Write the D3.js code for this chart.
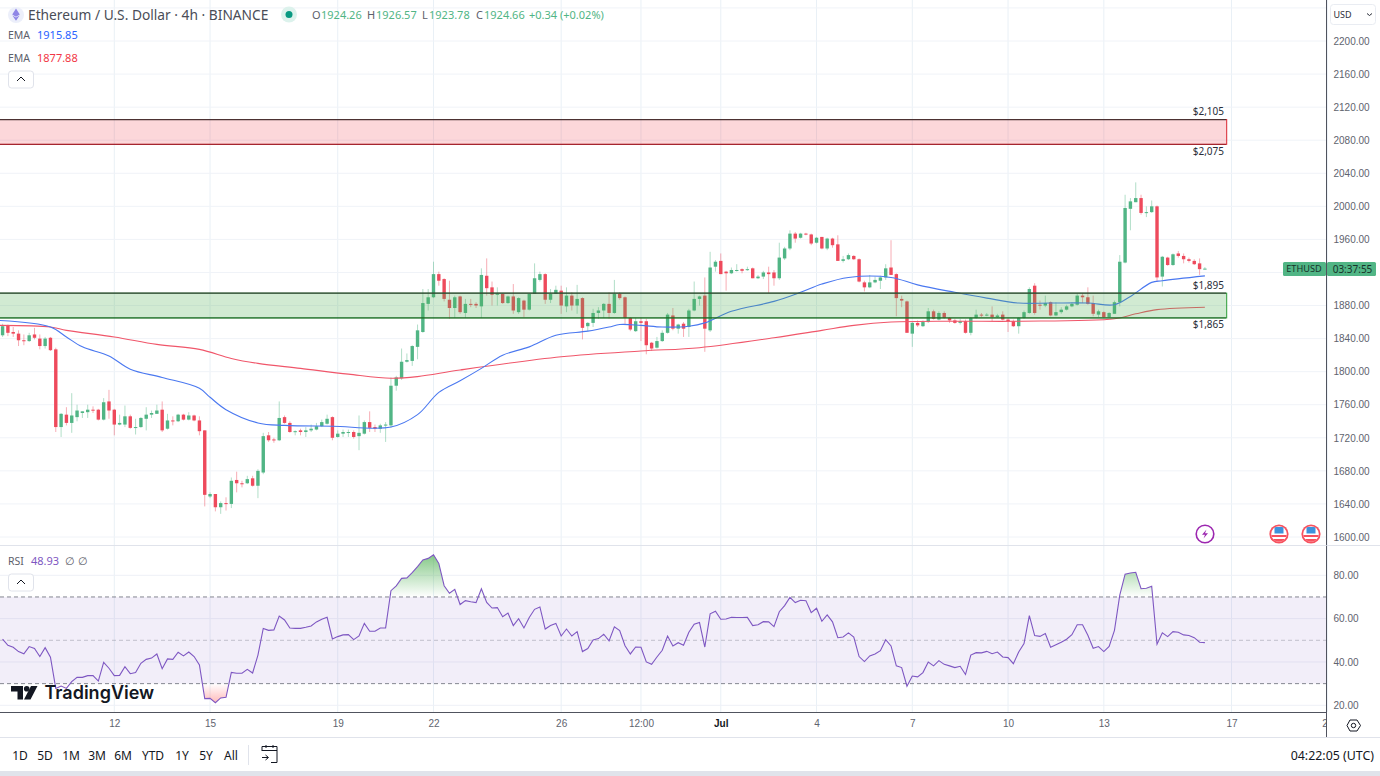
<!DOCTYPE html>
<html>
<head>
<meta charset="utf-8">
<script src="https://cdnjs.cloudflare.com/ajax/libs/d3/7.8.5/d3.min.js"></script>
<style>
  html, body { margin: 0; background: #fff; }
  svg { display: block; font-family: "Noto Sans", sans-serif; }
  .axis path { display: none; }
  .axis text { fill: #60636e; font-size: 10px; font-family: "Liberation Sans", sans-serif; }
</style>
</head>
<body>
<div id="chart"></div>
<script>
// candles, 4h each, first one opens on Jun 8 12:00 UTC
var opens = [
  1844,1856,1848,1846,1838,1837,1845,1840,1831,1841,
  1827,1733,1748,1738,1745,1750,1751,1754,1754,1742,
  1764,1754,1736,1736,1746,1732,1733,1743,1748,1749,
  1754,1731,1741,1740,1748,1742,1747,1741,1729,1649,
  1652,1636,1641,1640,1669,1665,1665,1671,1662,1678,
  1723,1718,1717,1745,1738,1727,1729,1727,1729,1730,
  1734,1737,1745,1721,1725,1726,1727,1722,1725,1739,
  1733,1731,1735,1735,1783,1792,1812,1813,1830,1848,
  1882,1890,1918,1912,1887,1877,1891,1871,1882,1882,
  1879,1916,1902,1893,1894,1883,1891,1872,1886,1875,
  1894,1911,1918,1887,1894,1898,1879,1892,1880,1889,
  1855,1859,1871,1874,1882,1871,1894,1890,1865,1849,
  1861,1861,1835,1829,1837,1847,1868,1852,1858,1854,
  1874,1888,1892,1850,1927,1934,1921,1919,1922,1924,
  1923,1925,1913,1915,1920,1920,1913,1937,1949,1967,
  1962,1967,1966,1956,1963,1949,1961,1954,1934,1936,
  1940,1936,1908,1902,1908,1910,1914,1926,1918,1888,
  1885,1846,1859,1855,1860,1873,1863,1871,1865,1862,
  1859,1861,1847,1865,1869,1868,1869,1866,1869,1863,
  1861,1855,1865,1871,1904,1881,1880,1884,1868,1872,
  1875,1879,1881,1892,1890,1883,1869,1872,1866,1870,
  1884,1932,1997,2005,2010,1992,1993,2000,1915,1938,
  1929,1943,1940,1936,1934,1931,1924.26];
var closes = [
  1855,1847,1846,1838,1837,1844,1841,1831,1840,1826,
  1733,1749,1738,1747,1753,1752,1754,1753,1742,1763,
  1753,1736,1738,1746,1732,1733,1744,1748,1750,1753,
  1729,1741,1740,1748,1742,1747,1741,1728,1651,1652,
  1636,1641,1640,1668,1665,1664,1670,1662,1680,1722,
  1717,1717,1744,1738,1727,1728,1727,1729,1731,1734,
  1739,1743,1720,1725,1727,1727,1721,1726,1739,1732,
  1731,1735,1736,1783,1793,1812,1814,1831,1850,1883,
  1890,1918,1910,1888,1877,1890,1872,1882,1881,1880,
  1917,1901,1893,1894.5,1883,1891,1874,1889,1875,1894,
  1913,1918,1887,1894,1899,1880,1892,1880,1888,1853,
  1859,1871,1874,1882,1871,1894,1889,1865,1851,1861,
  1859,1832,1828,1837,1847,1869,1852,1857,1852,1874,
  1888,1891,1852,1926,1933,1918,1919,1923,1923,1922,
  1924,1913,1915,1920,1918,1913,1938,1949,1967,1961,
  1967,1966,1955,1962,1949,1961,1953,1934,1936,1941,
  1936,1909,1902,1908,1911,1914,1925,1917,1889,1886,
  1847,1859,1856,1860,1873,1864,1871,1865,1862,1859,
  1861,1847,1865,1869,1868,1869,1866,1868,1863,1861,
  1855,1865,1872,1900,1871,1880,1883,1868,1872,1875,
  1879,1882,1892,1890,1882,1870,1873,1866,1871,1884,
  1933,1998,2006,2010,1992,1993,2000,1914,1939,1929,
  1942,1940,1936,1934,1930,1924,1924.66];
var highs = [
  1858,1857,1854,1850,1845,1847,1853,1845,1842,1842,
  1829,1750,1757,1774,1760,1752,1760,1758,1755,1768,
  1778,1755,1748,1759,1748,1743,1745,1757,1753,1760,
  1764,1749,1746,1749,1749,1751,1748,1746,1729,1654,
  1652,1643,1648,1672,1679,1668,1674,1674,1682,1726,
  1727,1720,1764,1747,1740,1729,1731,1733,1736,1738,
  1742,1748,1746,1729,1730,1730,1729,1747,1741,1752,
  1736,1737,1739,1793,1795,1828,1822,1832,1857,1900,
  1900,1933,1921,1913,1910,1892,1892,1888,1888,1884,
  1925,1937,1909,1902,1895,1892,1906,1890,1887,1895,
  1931,1921,1919,1900,1904,1904,1902,1896,1905,1890,
  1860,1876,1878,1883,1896,1911,1896,1891,1866,1865,
  1865,1864,1836,1842,1850,1871,1877,1858,1860,1876,
  1909,1892,1914,1945,1935,1943,1922,1926,1930,1925,
  1927,1926,1917,1922,1927,1923,1956,1951,1971,1969,
  1968,1968,1967,1963,1963,1962,1962,1965,1940,1943,
  1941,1937,1910,1917,1915,1916,1930,1959,1919,1892,
  1886,1860,1862,1862,1877,1875,1873,1873,1866,1864,
  1864,1863,1866,1875,1871,1871,1879,1870,1873,1865,
  1863,1866,1874,1902,1907,1886,1892,1885,1884,1878,
  1881,1884,1895,1895,1902,1892,1875,1873,1872,1886,
  1941,2014,2010,2029,2014,2000,2007,2001,1940,1939,
  1943,1946,1943,1938,1936,1937,1926.57];
var lows = [
  1842,1843,1842,1831,1832,1836,1839,1827,1828,1825,
  1727,1721,1735,1726,1740,1744,1744,1750,1741,1741,
  1743,1723,1735,1733,1731,1724,1732,1729,1744,1749,
  1727,1730,1735,1739,1741,1741,1740,1723,1637,1647,
  1631,1628,1632,1635,1654,1660,1664,1661,1647,1676,
  1715,1714,1716,1737,1726,1723,1723,1721,1727,1729,
  1733,1736,1717,1720,1721,1721,1719,1705,1724,1727,
  1727,1726,1715,1732,1777,1790,1811,1807,1815,1847,
  1874,1889,1904,1885,1864,1865,1870,1865,1878,1877,
  1865,1892,1880,1880,1882,1882,1870,1870,1866,1874,
  1894,1909,1882,1883,1894,1870,1872,1874,1870,1839,
  1849,1854,1864,1865,1864,1870,1887,1857,1849,1848,
  1837,1821,1825,1828,1836,1846,1850,1846,1842,1842,
  1873,1880,1824,1848,1921,1918,1898,1918,1921,1919,
  1922,1913,1912,1912,1895,1904,1911,1935,1947,1956,
  1961,1965,1953,1955,1948,1947,1950,1934,1932,1935,
  1935,1908,1897,1901,1907,1900,1911,1917,1867,1878,
  1847,1830,1854,1854,1859,1863,1862,1864,1859,1858,
  1857,1846,1844,1864,1866,1867,1861,1865,1862,1848,
  1854,1846,1864,1870,1869,1875,1878,1867,1867,1870,
  1874,1878,1880,1883,1881,1867,1866,1865,1865,1870,
  1879,1931,1971,2005,1990,1987,1992,1909,1903,1928,
  1928,1938,1931,1932,1929,1917,1923.78];
var rsiValues = [
  50.5,47.7,46.8,44.8,43.8,47.1,46.2,42.5,46.6,42.2,
  27.8,28.9,27.8,30.9,32.9,32.9,33.7,33.7,31.2,39.8,
  37.1,33.7,33.8,37.8,34.6,35.1,39.4,41.2,41.8,43.7,
  36.9,41.4,41.2,44.5,42.8,44.6,42.5,38.6,23.1,23.2,
  21.2,23.4,23.7,35.2,34.8,34.8,36.6,34.9,43.2,55.5,
  54.6,54.8,61.2,59.4,55.7,55.5,55.5,56,56.6,58.5,
  59.7,60.6,50.6,51.7,52.5,52.6,50.3,52,57.8,54.2,
  54.2,55.7,55.7,72.9,75.1,78.6,78.8,81.2,84,87.1,
  87.8,89.5,85.5,75.2,71.7,73.5,66.5,68.3,67.8,67.4,
  73.8,67.5,64.9,65.1,60.9,62.6,56.8,60,55.7,60.5,
  64.3,65.4,55.2,56.8,57.8,52,55.2,52,54,44.8,
  46.2,50.2,50.8,52.8,49.7,56.2,54.5,47.5,43.7,46.9,
  46.8,40,38.9,42.3,45.4,52,47.4,48.9,47.7,53.7,
  57.4,58.2,46.9,62.2,63.4,59.7,59.8,60.6,60.5,60.5,
  60.6,56.8,57.2,58.6,58.5,56.3,63.2,66,69.8,67.4,
  68.5,68.3,62.8,64.8,58.8,61.7,58.5,51.2,51.5,53.4,
  51.5,42.5,40.2,42.8,43.7,45.2,50.3,47.4,38.2,37.4,
  28.8,33.5,33.1,35.1,40,38.2,40.6,38.9,38.2,37.4,
  38,34.2,43.2,44.3,44.2,44.9,43.8,44.6,42.3,42,
  39.2,44.6,48.5,61.4,52.2,51.8,53.1,46.8,48,49.1,
  50.5,52.6,57.2,57.2,52.3,46.3,47.1,44.8,47.2,54.6,
  70.8,80.5,81.1,81.4,73.8,74,74.9,48.2,53.5,51.7,
  54,53.7,52.5,52.2,51.2,49.1,48.93];

// EMA lines read at their bends: candle number, price
var emaFastIndex = [-1,9,12,15,20,24,30,37,39,42,48,53,62,73,78,82,86,90,94,99,104,110,114,116,120,124,129,132,137,145,150,154,159,167,172,179,185,191,197,204,209,212,216,218,226];
var emaFastValue = [1862,1854,1842,1830,1819,1803,1793,1780,1769,1754,1738,1735,1734,1733,1748,1775,1789,1804,1820,1830,1844,1849,1854,1857,1856,1854,1855,1859,1873,1885,1896,1906,1914,1914,1905,1896,1889,1883,1883,1883,1881,1891,1908,1910,1915.85];
var emaSlowIndex = [-1,9,12,21,29,37,43,48,56,65,73,78,86,105,120,131,145,154,160,167,179,191,209,213,217,226];
var emaSlowValue = [1856,1854,1850,1842,1833,1827,1816,1810,1804,1797,1792,1794,1802,1818,1825,1829,1841,1850,1856,1860,1861,1861,1864,1870,1875,1877.88];

var priceTicks = [2240,2200,2160,2120,2080,2040,2000,1960,1920,1880,1840,1800,1760,1720,1680,1640,1600];
var rsiTicks = [80,60,40,20];
var timeTicks = ["2023-06-12","2023-06-15","2023-06-19","2023-06-22","2023-06-26","2023-06-28T12:00","2023-07-01","2023-07-04","2023-07-07","2023-07-10","2023-07-13","2023-07-17","2023-07-20"];
var timeLabels = ["12","15","19","22","26","12:00","Jul","4","7","10","13","17","20"];
var rangeButtons = ["1D","5D","1M","3M","6M","YTD","1Y","5Y","All"];
var rangeButtonX = [20,45,71,97,123,153,182,206,231];
var zones = [{top: 2105, bottom: 2075, kind: "red"}, {top: 1895, bottom: 1865, kind: "green"}];

var W = 1380, H = 776, plotRight = 1326.5;
var upColor = "#51b585", downColor = "#ee4a5c";

var svg = d3.select("#chart").append("svg").attr("width", W).attr("height", H);
var defs = svg.append("defs");

var startTime = Date.UTC(2023, 5, 8, 12);
function candleTime(i) { return new Date(startTime + i * 4 * 3600 * 1000); }

var x = d3.scaleUtc()
  .domain([new Date(Date.UTC(2023, 5, 12)), new Date(Date.UTC(2023, 6, 17))])
  .range([114.3, 1231.5]);
var y = d3.scaleLinear().domain([1600, 2200]).range([537, 41]);
var yRsi = d3.scaleLinear().domain([20, 80]).range([705.3, 575.3]);
var tickDates = timeTicks.map(function(s) { return new Date(s + (s.length > 10 ? ":00Z" : "T00:00:00Z")); });

function clip(id, x0, y0, w, h) {
  defs.append("clipPath").attr("id", id).append("rect")
    .attr("x", x0).attr("y", y0).attr("width", w).attr("height", h);
}
clip("mainClip", 0, 0, plotRight, 545);
clip("rsiClip", 0, 545.5, plotRight, 166.5);
clip("timeClip", 0, 0, plotRight, 26);

function txt(g, px, py, s, color, size, anchor, weight) {
  return g.append("text").attr("x", px).attr("y", py).attr("dy", "0.35em")
    .attr("fill", color).attr("font-size", size)
    .attr("text-anchor", anchor || "start").attr("font-weight", weight || null).text(s);
}

// grid
var grid = svg.append("g");
grid.selectAll(".v").data(tickDates).enter().append("line")
  .attr("x1", function(d) { return x(d); }).attr("x2", function(d) { return x(d); })
  .attr("y1", 0).attr("y2", 712).attr("stroke", "#e9f0f6");
grid.selectAll(".h").data(priceTicks).enter().append("line")
  .attr("x1", 0).attr("x2", plotRight)
  .attr("y1", function(d) { return y(d); }).attr("y2", function(d) { return y(d); })
  .attr("stroke", "#f0f3f8");
grid.selectAll(".hr").data(rsiTicks).enter().append("line")
  .attr("x1", 0).attr("x2", plotRight)
  .attr("y1", function(d) { return yRsi(d); }).attr("y2", function(d) { return yRsi(d); })
  .attr("stroke", "#eef1f7");

// price pane
var main = svg.append("g").attr("clip-path", "url(#mainClip)");
var candles = main.selectAll(".candle").data(d3.range(opens.length)).enter().append("g");
candles.append("line")
  .attr("x1", function(i) { return x(candleTime(i)); })
  .attr("x2", function(i) { return x(candleTime(i)); })
  .attr("y1", function(i) { return y(highs[i]); })
  .attr("y2", function(i) { return y(lows[i]); })
  .attr("stroke", function(i) { return closes[i] >= opens[i] ? upColor : downColor; })
  .attr("stroke-opacity", 0.45);
candles.append("rect")
  .attr("x", function(i) { return x(candleTime(i)) - 1.7; })
  .attr("width", 3.4)
  .attr("y", function(i) { return y(Math.max(opens[i], closes[i])); })
  .attr("height", function(i) { return Math.max(1, Math.abs(y(opens[i]) - y(closes[i]))); })
  .attr("fill", function(i) { return closes[i] >= opens[i] ? upColor : downColor; });

var emaLine = d3.line()
  .curve(d3.curveCatmullRom.alpha(0.5))
  .x(function(d) { return x(candleTime(d[0])); })
  .y(function(d) { return y(d[1]); });
main.append("path").datum(d3.zip(emaSlowIndex, emaSlowValue))
  .attr("d", emaLine).attr("fill", "none").attr("stroke", "#f0566a").attr("stroke-width", 1.1);
main.append("path").datum(d3.zip(emaFastIndex, emaFastValue))
  .attr("d", emaLine).attr("fill", "none").attr("stroke", "#4a78f0").attr("stroke-width", 1.1);

// supply and demand boxes go over the candles
zones.forEach(function(z) {
  var red = z.kind == "red";
  main.append("rect")
    .attr("x", -3).attr("width", 1226.7 + 3)
    .attr("y", y(z.top)).attr("height", y(z.bottom) - y(z.top))
    .attr("fill", red ? "rgba(242,54,69,0.2)" : "rgba(76,175,80,0.26)")
    .attr("stroke", red ? "#d8232f" : "#2a9d35").attr("stroke-width", 1);
  main.append("line")
    .attr("x1", 0).attr("x2", 1226)
    .attr("y1", y(z.top)).attr("y2", y(z.top))
    .attr("stroke", "#333").attr("stroke-width", 1.2).attr("stroke-opacity", 0.85);
  main.append("line")
    .attr("x1", 0).attr("x2", 1226)
    .attr("y1", y(z.bottom)).attr("y2", y(z.bottom))
    .attr("stroke", red ? "#8e1a22" : "#14501c").attr("stroke-opacity", 0.85);
  txt(main, 1224, y(z.top) - 8, "$" + d3.format(",")(z.top), "#2a2e39", 10, "end");
  txt(main, 1224, y(z.bottom) + 7, "$" + d3.format(",")(z.bottom), "#2a2e39", 10, "end");
});

// rsi pane
var pane = svg.append("g").attr("clip-path", "url(#rsiClip)");
pane.append("rect")
  .attr("x", 0).attr("width", plotRight)
  .attr("y", yRsi(70)).attr("height", yRsi(30) - yRsi(70))
  .attr("fill", "rgba(126,87,194,0.1)");
[70, 50, 30].forEach(function(v) {
  pane.append("line")
    .attr("x1", 0).attr("x2", plotRight)
    .attr("y1", yRsi(v)).attr("y2", yRsi(v))
    .attr("stroke", "#787b86").attr("stroke-dasharray", "4 3")
    .attr("stroke-opacity", v == 50 ? 0.4 : 0.9);
});

function gradient(id, y1, y2, c1, c2) {
  var g = defs.append("linearGradient").attr("id", id)
    .attr("gradientUnits", "userSpaceOnUse")
    .attr("x1", 0).attr("x2", 0).attr("y1", y1).attr("y2", y2);
  g.append("stop").attr("offset", 0).attr("stop-color", c1);
  g.append("stop").attr("offset", 1).attr("stop-color", c2);
}
gradient("obFill", yRsi(90), yRsi(70), "rgba(76,175,80,0.7)", "rgba(76,175,80,0)");
gradient("osFill", yRsi(30), yRsi(20), "rgba(255,82,82,0)", "rgba(255,82,82,0.45)");
clip("obClip", 0, 545.5, plotRight, yRsi(70) - 545.5);
clip("osClip", 0, yRsi(30), plotRight, 712 - yRsi(30));

var rsiArea = function(level) {
  return d3.area()
    .x(function(v, i) { return x(candleTime(i)); })
    .y0(yRsi(level))
    .y1(function(v) { return yRsi(v); });
};
pane.append("path").attr("d", rsiArea(70)(rsiValues))
  .attr("fill", "url(#obFill)").attr("clip-path", "url(#obClip)");
pane.append("path").attr("d", rsiArea(30)(rsiValues))
  .attr("fill", "url(#osFill)").attr("clip-path", "url(#osClip)");
pane.append("path").datum(rsiValues)
  .attr("d", d3.line()
    .x(function(v, i) { return x(candleTime(i)); })
    .y(function(v) { return yRsi(v); }))
  .attr("fill", "none").attr("stroke", "#7e57c2").attr("stroke-width", 1.1);

// axes
var priceAxis = svg.append("g").attr("class", "axis").attr("transform", "translate(" + plotRight + ",0)")
  .call(d3.axisRight(y).tickValues(priceTicks.slice(1)).tickSize(0).tickPadding(7).tickFormat(d3.format(".2f")));
priceAxis.selectAll("text").filter(function(d) { return d == 1920; }).remove();
svg.append("g").attr("class", "axis").attr("transform", "translate(" + plotRight + ",0)")
  .call(d3.axisRight(yRsi).tickValues(rsiTicks).tickSize(0).tickPadding(7).tickFormat(d3.format(".2f")));
var timeAxis = svg.append("g").attr("class", "axis").attr("clip-path", "url(#timeClip)")
  .attr("transform", "translate(0,712)")
  .call(d3.axisBottom(x).tickValues(tickDates).tickSize(0).tickPadding(8)
    .tickFormat(function(d, i) { return timeLabels[i]; }));
timeAxis.selectAll("text").filter(function(d, i) { return timeLabels[i] == "Jul"; })
  .style("fill", "#131722").style("font-weight", "bold");

function rule(x1, y1, x2, y2, c) {
  svg.append("line").attr("x1", x1).attr("y1", y1).attr("x2", x2).attr("y2", y2).attr("stroke", c);
}
rule(plotRight, 0, plotRight, 737, "#50535e");
rule(0, 545.5, plotRight, 545.5, "#e0e3eb");
rule(plotRight, 545.5, W, 545.5, "#e0e3eb");
rule(0, 712.5, plotRight, 712.5, "#50535e");
rule(0, 737.5, W, 737.5, "#e0e3eb");
rule(248.5, 745, 248.5, 765, "#e0e3eb");
svg.append("rect").attr("x", 0).attr("y", 771).attr("width", W).attr("height", 5).attr("fill", "#e0e3eb");

function upButton(py) {
  svg.append("rect").attr("x", 8.5).attr("y", py).attr("width", 25).attr("height", 17).attr("rx", 3)
    .attr("fill", "#fff").attr("stroke", "#e0e3eb");
  svg.append("path").attr("d", "M17 " + (py + 10) + "l4-4 4 4").attr("fill", "none").attr("stroke", "#131722");
}

// legend
var legend = svg.append("g");
legend.append("circle").attr("cx", 16).attr("cy", 15).attr("r", 8).attr("fill", "#eceffa");
legend.append("path").attr("d", "M16 8.5l3.8 6-3.8 2.2-3.8-2.2zM12.4 15.4l3.6 2.2 3.6-2.2-3.6 5.3z").attr("fill", "#8f86e6");
txt(legend, 28, 15, "Ethereum / U.S. Dollar · 4h · BINANCE", "#4a4d57", 13.75);
legend.append("circle").attr("cx", 289).attr("cy", 14.5).attr("r", 8).attr("fill", "#dcf2ec");
legend.append("circle").attr("cx", 289).attr("cy", 14.5).attr("r", 3.5).attr("fill", "#089981");
var ohlc = [["O", 312, 321, "1924.26"], ["H", 367, 376, "1926.57"], ["L", 422, 429, "1923.78"], ["C", 476, 484, "1924.66"]];
ohlc.forEach(function(d) {
  txt(legend, d[1], 15.5, d[0], "#5d606b", 11);
  txt(legend, d[2], 15.5, d[3], upColor, 11);
});
txt(legend, 529, 15.5, "+0.34 (+0.02%)", upColor, 11);
txt(legend, 8, 35.5, "EMA", "#5d606b", 10.5);
txt(legend, 37, 35.5, "1915.85", "#2962ff", 11);
txt(legend, 8, 58, "EMA", "#5d606b", 10.5);
txt(legend, 37, 58, "1877.88", "#f23645", 11);
upButton(71);
txt(legend, 8, 561, "RSI", "#5d606b", 10.5);
txt(legend, 31, 561, "48.93", "#7e57c2", 11);
txt(legend, 65, 561, "∅", "#5d606b", 10.5);
txt(legend, 78, 561, "∅", "#5d606b", 10.5);
upButton(574);

// tradingview mark
var logo = svg.append("g").attr("transform", "translate(11,686)");
logo.append("path").attr("d", "M0 0H12V13.5H6.5V5.5H0zM19.5 13.5H13L20 0H26.5z").attr("fill", "#131722");
logo.append("circle").attr("cx", 15.7).attr("cy", 2.8).attr("r", 2.8).attr("fill", "#131722");
txt(svg, 44.5, 693, "TradingView", "#131722", 18, "start", 600).style("font-family", "Inter");

// last price tag
var tag = svg.append("g");
tag.append("rect").attr("x", 1283).attr("y", 262).attr("width", 43).attr("height", 14).attr("fill", upColor).attr("rx", 1.5);
tag.append("rect").attr("x", 1327).attr("y", 262).attr("width", 49).attr("height", 14).attr("fill", upColor).attr("rx", 1.5);
txt(tag, 1304, 269, "ETHUSD", "#17332a", 9.2, "middle");
txt(tag, 1352.5, 269, "03:37:55", "#17332a", 10, "middle");

// currency box
svg.append("rect").attr("x", 1330.5).attr("y", 4.5).attr("width", 45).attr("height", 20).attr("rx", 3)
  .attr("fill", "#fff").attr("stroke", "#e9ecf2");
txt(svg, 1333.5, 15, "USD", "#2a2e39", 9);
svg.append("path").attr("d", "M1367 13.5l2.5 2 2.5-2").attr("fill", "none").attr("stroke", "#2a2e39");

// event markers
var flash = svg.append("g").attr("transform", "translate(1205,534)");
flash.append("circle").attr("r", 8.8).attr("fill", "#fff").attr("stroke", "#9c27b0").attr("stroke-width", 1.6);
flash.append("path").attr("d", "M1.5-4.5L-3 .8H0L-1.5 4.5 3-.8H0z").attr("fill", "#9c27b0");
[1279, 1311].forEach(function(px, n) {
  var f = svg.append("g").attr("transform", "translate(" + px + ",534)");
  defs.append("clipPath").attr("id", "flag" + n).append("circle").attr("r", 7.8);
  f.append("circle").attr("r", 9.6).attr("fill", "#f7525f");
  var inner = f.append("g").attr("clip-path", "url(#flag" + n + ")");
  inner.append("rect").attr("x", -8).attr("y", -8).attr("width", 16).attr("height", 16).attr("fill", "#fff");
  inner.append("rect").attr("x", -4.5).attr("y", -7).attr("width", 9).attr("height", 6.5).attr("fill", "#3e92dc");
  inner.append("rect").attr("x", -8).attr("y", 1).attr("width", 16).attr("height", 2).attr("fill", "#f7525f");
  inner.append("rect").attr("x", -8).attr("y", 5).attr("width", 16).attr("height", 3).attr("fill", "#f7525f");
});

// settings hexagon
svg.append("path").attr("d", "M1347 725.5l3-5.5h7l3.5 5.5-3.5 5.5h-7z").attr("fill", "none").attr("stroke", "#131722");
svg.append("circle").attr("cx", 1353.5).attr("cy", 725.5).attr("r", 2.2).attr("fill", "none").attr("stroke", "#131722");

// bottom toolbar
rangeButtons.forEach(function(b, i) {
  txt(svg, rangeButtonX[i], 755.5, b, "#131722", 12, "middle");
});
svg.append("path")
  .attr("d", "M262 751v-4.5h15v16h-6M262 750.5h15M266 745v3M273 745v3M262 757.5h6M265.5 755l3 2.5-3 2.5")
  .attr("fill", "none").attr("stroke", "#131722");
txt(svg, 1374, 755.5, "04:22:05 (UTC)", "#131722", 12.4, "end");
</script>
</body>
</html>
